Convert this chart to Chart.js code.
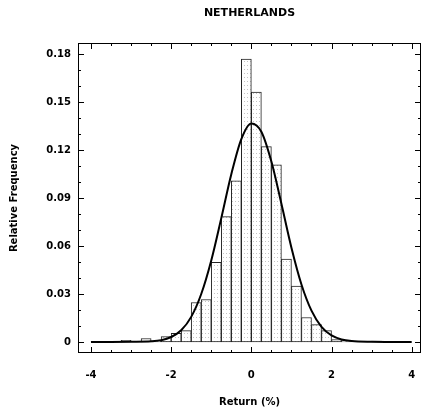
<!DOCTYPE html>
<html><head><meta charset="utf-8">
<script src="https://cdn.jsdelivr.net/npm/chart.js@4/dist/chart.umd.min.js"></script>
<style>html,body{margin:0;padding:0;background:#fff;}#wrap{width:422px;height:414px;position:relative;}</style>
</head><body><div id="wrap"><canvas id="c"></canvas></div>
<script>
const chartTitle = 'NETHERLANDS';
const xAxisTitle = 'Return (%)';
const yAxisTitle = 'Relative Frequency';
// histogram bins (centres, width 0.25) and relative frequencies
const binCenters = [-3.875,-3.625,-3.125,-2.625,-2.375,-2.125,-1.875,-1.625,-1.375,-1.125,-0.875,-0.625,-0.375,-0.125,0.125,0.375,0.625,0.875,1.125,1.375,1.625,1.875,2.125,2.375,3.125];
const relFreq    = [0.0003,0.0003,0.0010,0.0022,0.0005,0.0033,0.0054,0.0071,0.0247,0.0266,0.0498,0.0784,0.1008,0.1770,0.1564,0.1223,0.1108,0.0519,0.0350,0.0153,0.0109,0.0071,0.0015,0.0008,0.0005];
// fitted normal curve
const curveX = [-4,-3.5,-3,-2.5,-2.25,-2,-1.75,-1.5,-1.25,-1,-0.75,-0.5,-0.25,0,0.25,0.5,0.75,1,1.25,1.5,1.75,2,2.25,2.5,3,3.5,4];
const curveY = [0,0,0.0001,0.0004,0.0011,0.0031,0.0073,0.0157,0.0300,0.0510,0.0775,0.1050,0.1270,0.1368,0.1316,0.1129,0.0865,0.0590,0.0360,0.0196,0.0095,0.0041,0.0016,0.0006,0.0001,0,0];
const xTickLabels = [-4,-2,0,2,4];
const yTickLabels = [0,0.03,0.06,0.09,0.12,0.15,0.18];
const xMinorStep = 0.5;
const yMinorStep = 0.01;

// stipple pattern for the bars
const pc = document.createElement('canvas'); pc.width = 3; pc.height = 4;
const pctx = pc.getContext('2d');
pctx.fillStyle = '#fff'; pctx.fillRect(0,0,3,4);
pctx.fillStyle = '#c4c4c4'; pctx.fillRect(1,1,1,1);
const stipple = pctx.createPattern(pc,'repeat');

const FONT = '"DejaVu Sans", sans-serif';

const framePlugin = {
  id: 'frame',
  afterDatasetsDraw(chart) {
    const {ctx, chartArea: a, scales: {x, y}} = chart;
    ctx.save();
    ctx.strokeStyle = '#000';
    ctx.lineWidth = 1;
    ctx.strokeRect(a.left + 0.5, a.top + 0.5, a.right - a.left - 1, a.bottom - a.top - 1);
    ctx.beginPath();
    const xMin = xTickLabels[0], xMax = xTickLabels[xTickLabels.length - 1];
    for (let i = 0; xMin + i * xMinorStep <= xMax + 1e-9; i++) {
      const v = xMin + i * xMinorStep;
      const major = xTickLabels.some(t => Math.abs(t - v) < 1e-9);
      const len = major ? 6 : 3;
      const px = Math.round(x.getPixelForValue(v)) + 0.5;
      ctx.moveTo(px, a.bottom); ctx.lineTo(px, a.bottom - len);
      ctx.moveTo(px, a.top); ctx.lineTo(px, a.top + len);
    }
    const yMin = yTickLabels[0], yMax = yTickLabels[yTickLabels.length - 1];
    for (let i = 0; yMin + i * yMinorStep <= yMax + 1e-9; i++) {
      const v = yMin + i * yMinorStep;
      const major = yTickLabels.some(t => Math.abs(t - v) < 1e-9);
      const len = major ? 6 : 3;
      const py = Math.round(y.getPixelForValue(v)) + 0.5;
      ctx.moveTo(a.left, py); ctx.lineTo(a.left + len, py);
      ctx.moveTo(a.right, py); ctx.lineTo(a.right - len, py);
    }
    ctx.stroke();
    ctx.fillStyle = '#000';
    ctx.font = 'bold 11px ' + FONT;
    ctx.textAlign = 'center';
    ctx.textBaseline = 'middle';
    ctx.fillText(chartTitle, (a.left + a.right) / 2, 13);
    ctx.restore();
  }
};

new Chart(document.getElementById('c'), {
  type: 'bar',
  data: {
    datasets: [
      {
        type: 'line',
        data: curveX.map((v, i) => ({x: v, y: curveY[i]})),
        borderColor: '#000',
        borderWidth: 2,
        pointRadius: 0,
        fill: false,
        cubicInterpolationMode: 'monotone',
        order: 0
      },
      {
        type: 'bar',
        data: binCenters.map((v, i) => ({x: v, y: relFreq[i]})),
        backgroundColor: stipple,
        borderColor: '#222',
        borderWidth: 1,
        borderSkipped: false,
        barPercentage: 1,
        categoryPercentage: 1,
        order: 1
      }
    ]
  },
  options: {
    responsive: true,
    maintainAspectRatio: false,
    animation: false,
    layout: {padding: {top: 43, right: 1, left: 0, bottom: 0}},
    plugins: {legend: {display: false}, tooltip: {enabled: false}, title: {display: false}},
    scales: {
      x: {
        type: 'linear',
        offset: false,
        min: -4.324,
        max: 4.232,
        grid: {display: false, drawTicks: false},
        border: {display: false},
        afterBuildTicks: s => { s.ticks = xTickLabels.map(v => ({value: v})); },
        afterFit: s => { s.height = 61; s.paddingLeft = 0; s.paddingRight = 0; },
        ticks: {padding: 16, color: '#000', font: {family: FONT, size: 10, weight: 'bold'}, maxRotation: 0, autoSkip: false},
        title: {display: true, text: xAxisTitle, color: '#000', font: {family: FONT, size: 10, weight: 'bold'}, padding: {top: 0, bottom: 6}}
      },
      y: {
        type: 'linear',
        min: -0.0069,
        max: 0.1871,
        grid: {display: false, drawTicks: false},
        border: {display: false},
        afterBuildTicks: s => { s.ticks = yTickLabels.map(v => ({value: v})); },
        afterFit: s => { s.width = 78; s.paddingTop = 0; s.paddingBottom = 0; },
        ticks: {padding: 7, color: '#000', font: {family: FONT, size: 10, weight: 'bold'}, autoSkip: false,
                callback: v => String(Math.round(v * 100) / 100)},
        title: {display: true, text: yAxisTitle, color: '#000', font: {family: FONT, size: 10, weight: 'bold'}, padding: {top: 8, bottom: 0}}
      }
    }
  },
  plugins: [framePlugin]
});
</script></body></html>
